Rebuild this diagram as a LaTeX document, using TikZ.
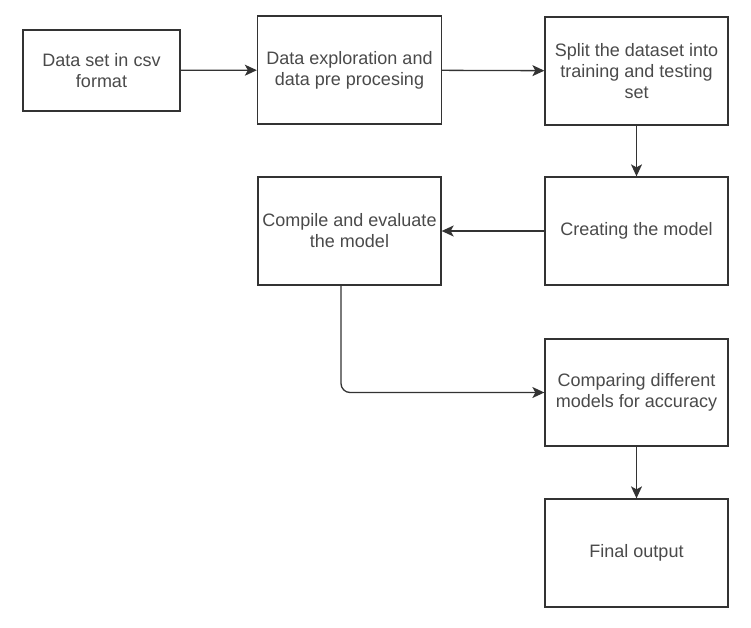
\documentclass[tikz,border=0pt]{standalone}
\usepackage{fontspec}
\setmainfont{Liberation Sans}
\usetikzlibrary{arrows.meta}
\definecolor{linec}{HTML}{333333}
\definecolor{textc}{HTML}{4A4A4A}
\tikzset{
  box/.style={draw=linec, line width=1.3pt, fill=white, minimum height=108pt, minimum width=183pt,
    inner sep=2pt, align=center, text=textc, font=\fontsize{18}{21}\selectfont},
  conn/.style={draw=linec, line width=1.3pt, -{Stealth[length=12pt,width=11pt,inset=3pt]}}
}
\begin{document}
\begin{tikzpicture}[x=1pt,y=-1pt]
\useasboundingbox (0,0) rectangle (751,627);
\node[box, minimum width=157pt, minimum height=81pt] (b1) at (101.5,70.5) {Data set in csv\\format};
\node[box, minimum width=184pt] (b2) at (349.5,70) {Data exploration and\\data pre procesing};
\node[box] (b3) at (636.5,71) {Split the dataset into\\training and testing\\set};
\node[box] (b4) at (636.5,231) {Creating the model};
\node[box] (b5) at (349.5,231) {Compile and evaluate\\the model};
\node[box, minimum height=107pt] (b6) at (636.5,392.5) {Comparing different\\models for accuracy};
\node[box] (b7) at (636.5,553) {Final output};
\draw[conn] (b1) -- (b2);
\draw[conn] (b2) -- (b3);
\draw[conn] (b3) -- (b4);
\draw[conn] (b4) -- (b5);
\draw[conn, rounded corners=9pt] ([xshift=-8.5pt]b5.south) |- (b6.west);
\draw[conn] (b6) -- (b7);
\end{tikzpicture}
\end{document}
